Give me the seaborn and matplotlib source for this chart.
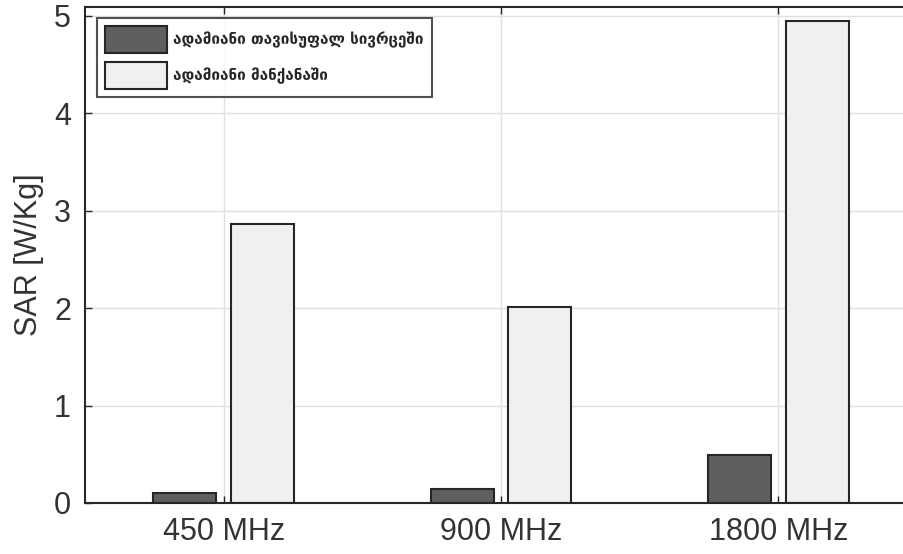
import matplotlib
matplotlib.use("Agg")
import matplotlib.pyplot as plt
import seaborn as sns
import pandas as pd

categories = ["450 MHz", "900 MHz", "1800 MHz"]
series_names = ["ადამიანი თავისუფალ სივრცეში", "ადამიანი მანქანაში"]
free_space = [0.10, 0.14, 0.49]
in_car = [2.86, 2.01, 4.95]
yticks = [0, 1, 2, 3, 4, 5]

df = pd.DataFrame({
    "freq": categories * 2,
    "series": [series_names[0]] * 3 + [series_names[1]] * 3,
    "sar": free_space + in_car,
})

sns.set_style("white")
plt.rcParams['font.family'] = ['Liberation Sans', 'DejaVu Sans']

fig = plt.figure(figsize=(9.04, 5.54), dpi=100)
W, H = 904, 554
ax = fig.add_axes([85 / W, 1 - 503 / H, (917 - 85) / W, (503 - 7) / H])

sns.barplot(data=df, x="freq", y="sar", hue="series", order=categories,
            hue_order=series_names, palette=["#5f5f5f", "#f0f0f0"],
            width=0.56, gap=0.19, edgecolor="#262626", linewidth=1.5,
            ax=ax, legend=True, saturation=1)

ax.set_xlim(-0.5, 2.5)
ax.set_ylim(0, 5.09)
ax.set_yticks(yticks)
ax.set_xlabel("")
ax.set_ylabel("SAR [W/Kg]", fontsize=22, color="#333333", labelpad=7)
ax.grid(True, color="#e0e0e0", linewidth=1)
ax.set_axisbelow(True)
for s in ax.spines.values():
    s.set_visible(True)
    s.set_color("#262626")
    s.set_linewidth(1.5)
ax.tick_params(axis="both", direction="in", length=5, width=1, colors="#262626",
               labelsize=22, labelcolor="#333333", top=True, right=True, left=True, bottom=True)
ax.tick_params(axis="x", pad=10)
ax.tick_params(axis="y", pad=10)

leg = ax.legend(loc="upper left", bbox_to_anchor=(12 / 832, 1 - 11 / 496),
                prop={"family": "DejaVu Sans", "weight": "bold", "size": 11},
                frameon=True, fancybox=False, edgecolor="#262626",
                handlelength=4.0, handleheight=2.3, borderpad=0.55, labelspacing=0.6,
                handletextpad=0.45, borderaxespad=0)
leg.get_frame().set_linewidth(1.5)

fig.savefig("out.png", dpi=100)
